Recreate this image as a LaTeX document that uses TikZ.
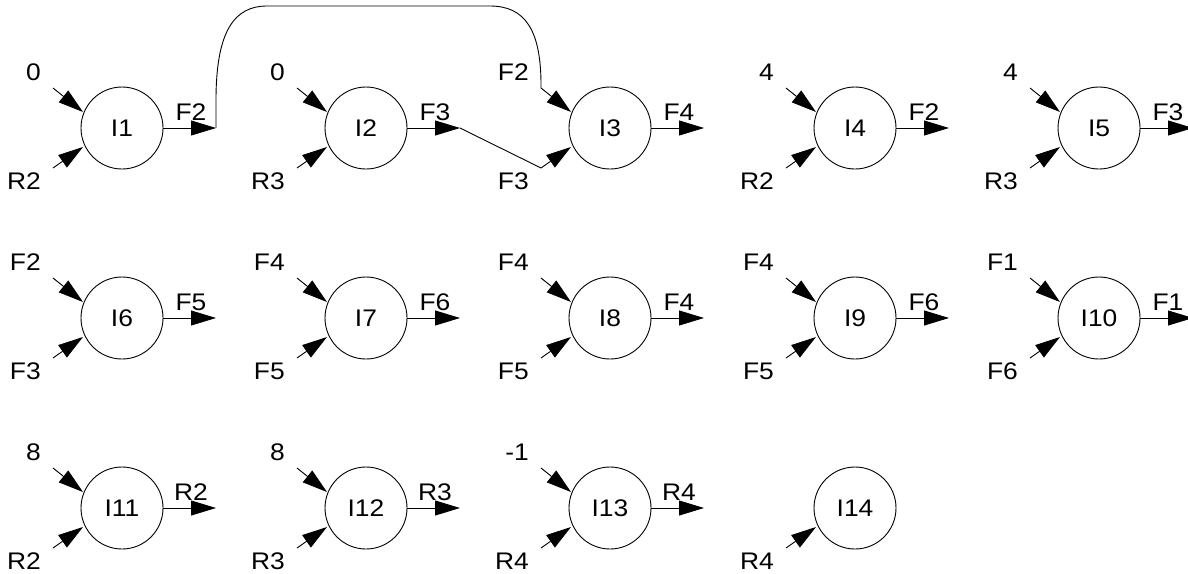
\documentclass[tikz,border=0pt]{standalone}
\usepackage{fontspec}
\setmainfont{Liberation Sans}[FakeStretch=1.1]
\usetikzlibrary{arrows.meta}
\newcommand{\pnode}[3]{\node[proc] (#1) at (#2,#3) {#1};}
\newcommand{\pinA}[2]{%
  \path (#1.center) ++(-81,-56) node[lbl,anchor=east] (#1-la) {#2};
  \path (#1.center) ++(-69,-40) coordinate (#1-sa);
  \path (#1.center) ++(-39,-16) coordinate (#1-ta);
  \draw[flow] (#1-sa) -- (#1-ta);}
\newcommand{\pinB}[2]{%
  \path (#1.center) ++(-81,53) node[lbl,anchor=east] (#1-lb) {#2};
  \path (#1.center) ++(-69,40) coordinate (#1-sb);
  \path (#1.center) ++(-39,19) coordinate (#1-tb);
  \draw[flow] (#1-sb) -- (#1-tb);}
\newcommand{\pout}[2]{%
  \path (#1.center) ++(69,-16) node[lbl] (#1-lo) {#2};
  \path (#1.center) ++(94,0) coordinate (#1-to);
  \draw[flow] (#1) -- (#1-to);}
\begin{document}
\begin{tikzpicture}[x=1pt,y=-1pt,
  proc/.style={circle,draw,line width=0.9pt,minimum size=82pt,inner sep=0pt,font=\fontsize{24}{28}\selectfont},
  lbl/.style={font=\fontsize{24}{28}\selectfont,inner sep=0pt},
  flow/.style={line width=0.9pt,-{Triangle[length=25pt,width=15pt]}},
  wire/.style={line width=0.9pt}]
\useasboundingbox (0,0) rectangle (1188,573);
% row 1
\pnode{I1}{122}{128}\pinA{I1}{0}\pinB{I1}{R2}\pout{I1}{F2}
\pnode{I2}{366}{128}\pinA{I2}{0}\pinB{I2}{R3}\pout{I2}{F3}
\pnode{I3}{610}{128}\pinA{I3}{F2}\pinB{I3}{F3}\pout{I3}{F4}
\pnode{I4}{855}{128}\pinA{I4}{4}\pinB{I4}{R2}\pout{I4}{F2}
\pnode{I5}{1099}{128}\pinA{I5}{4}\pinB{I5}{R3}\pout{I5}{F3}
% row 2
\pnode{I6}{122}{318}\pinA{I6}{F2}\pinB{I6}{F3}\pout{I6}{F5}
\pnode{I7}{366}{318}\pinA{I7}{F4}\pinB{I7}{F5}\pout{I7}{F6}
\pnode{I8}{610}{318}\pinA{I8}{F4}\pinB{I8}{F5}\pout{I8}{F4}
\pnode{I9}{855}{318}\pinA{I9}{F4}\pinB{I9}{F5}\pout{I9}{F6}
\pnode{I10}{1099}{318}\pinA{I10}{F1}\pinB{I10}{F6}\pout{I10}{F1}
% row 3
\pnode{I11}{122}{508}\pinA{I11}{8}\pinB{I11}{R2}\pout{I11}{R2}
\pnode{I12}{366}{508}\pinA{I12}{8}\pinB{I12}{R3}\pout{I12}{R3}
\pnode{I13}{610}{508}\pinA{I13}{-1}\pinB{I13}{R4}\pout{I13}{R4}
\pnode{I14}{855}{508}\pinB{I14}{R4}
% connectors
\draw[wire] (I1-to) -- (216,100) .. controls (216,30) and (235,6) .. (267,6)
  -- (490,6) .. controls (525,6) and (541,30) .. (541,85) -- (I3-sa);
\draw[wire] (I2-to) -- (I3-sb);
\end{tikzpicture}
\end{document}
